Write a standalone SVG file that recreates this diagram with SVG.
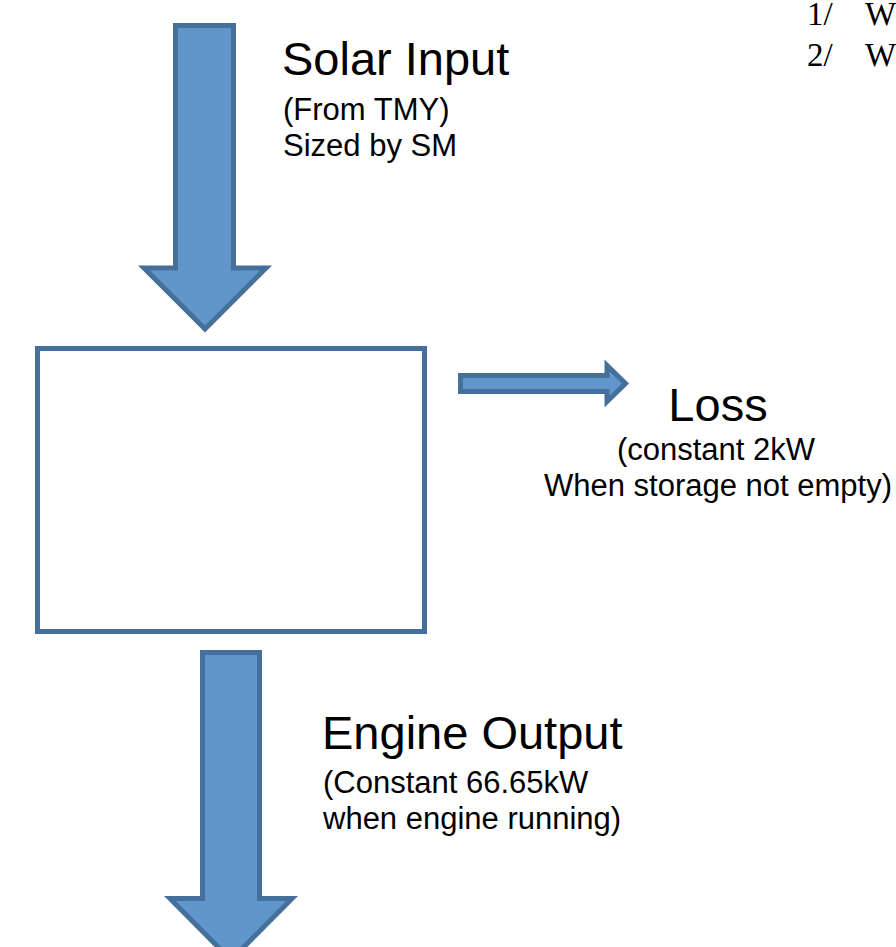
<svg xmlns="http://www.w3.org/2000/svg" width="896" height="947" viewBox="0 0 896 947">
<style>
.arrow{fill:#6096c9;stroke:#46709c;stroke-width:5;stroke-linejoin:miter}
.box{fill:#ffffff;stroke:#46709c;stroke-width:5}
.big{font-family:"Liberation Sans",Arial,sans-serif;font-size:47px;fill:#000}
.small{font-family:"Liberation Sans",Arial,sans-serif;font-size:31px;fill:#000}
.serif{font-family:"Liberation Serif","Times New Roman",serif;font-size:33px;fill:#000}
</style>
<rect width="896" height="947" fill="#ffffff"/>
<g id="connectors">
<path id="solar-arrow" class="arrow" d="M175.5,25.5 H233.5 V268 H266 L205,329 L144,268 H175.5 Z"/>
<path id="loss-arrow" class="arrow" d="M460.5,375.5 H607 V365.5 L625.5,383.5 L607,401.5 V391.5 H460.5 Z"/>
<path id="engine-arrow" class="arrow" d="M202.5,652.5 H259.5 V898.5 H292 L231,960 L170,898.5 H202.5 Z"/>
</g>
<g id="storage">
<rect class="box" x="37.5" y="348.5" width="387" height="283"/>
</g>
<g id="solar-label">
<text class="big" x="282" y="75">Solar Input</text>
<text class="small" x="283" y="120">(From TMY)</text>
<text class="small" x="283" y="156">Sized by SM</text>
</g>
<g id="loss-label">
<text class="big" x="718" y="421" text-anchor="middle">Loss</text>
<text class="small" x="716" y="460" text-anchor="middle">(constant 2kW</text>
<text class="small" x="718" y="496" text-anchor="middle">When storage not empty)</text>
</g>
<g id="engine-label">
<text class="big" x="322" y="749">Engine Output</text>
<text class="small" x="323" y="793">(Constant 66.65kW</text>
<text class="small" x="323" y="829">when engine running)</text>
</g>
<g id="notes">
<text class="serif" x="807" y="25">1/<tspan x="865">W</tspan></text>
<text class="serif" x="807" y="66">2/<tspan x="865">W</tspan></text>
</g>
</svg>
